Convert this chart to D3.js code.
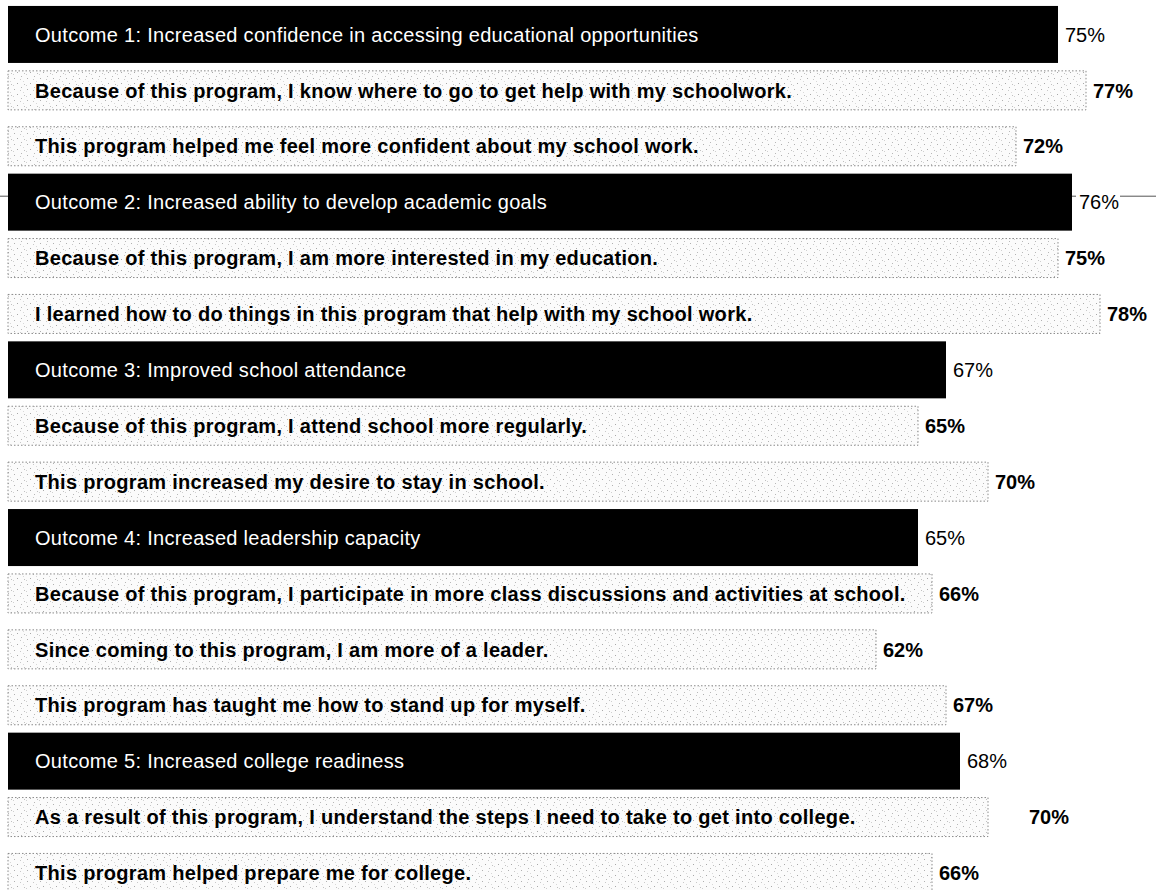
<!DOCTYPE html>
<html>
<head>
<meta charset="utf-8">
<script src="https://cdn.jsdelivr.net/npm/d3@7/dist/d3.min.js"></script>
<style>
  html, body { margin: 0; padding: 0; background: #fff; }
  svg { display: block; font-family: "Liberation Sans", Arial, Helvetica, sans-serif; }
</style>
</head>
<body>
<svg id="chart" width="1156" height="890"></svg>
<script>
// Survey results: outcome headings and the statements under each one
const labels = [
  "Outcome 1: Increased confidence in accessing educational opportunities",
  "Because of this program, I know where to go to get help with my schoolwork.",
  "This program helped me feel more confident about my school work.",
  "Outcome 2: Increased ability to develop academic goals",
  "Because of this program, I am more interested in my education.",
  "I learned how to do things in this program that help with my school work.",
  "Outcome 3: Improved school attendance",
  "Because of this program, I attend school more regularly.",
  "This program increased my desire to stay in school.",
  "Outcome 4: Increased leadership capacity",
  "Because of this program, I participate in more class discussions and activities at school.",
  "Since coming to this program, I am more of a leader.",
  "This program has taught me how to stand up for myself.",
  "Outcome 5: Increased college readiness",
  "As a result of this program, I understand the steps I need to take to get into college.",
  "This program helped prepare me for college."
];
const values = [75, 77, 72, 76, 75, 78, 67, 65, 70, 65, 66, 62, 67, 68, 70, 66];
const isOutcome = [true, false, false, true, false, false, true, false, false, true, false, false, false, true, false, false];

const W = 1156, H = 890;
const svg = d3.select("#chart");

const x = d3.scaleLinear().domain([0, 78]).range([8, 1100]);
const y = d3.scaleBand().domain(d3.range(labels.length)).range([6.5, 6.5 + 55.9 * labels.length]).padding(0);

const rows = labels.map((label, i) => ({ label, value: values[i], outcome: isOutcome[i], i }));

// stippled near-white fill for statement bars
const defs = svg.append("defs");
const pat = defs.append("pattern")
  .attr("id", "stipple").attr("patternUnits", "userSpaceOnUse")
  .attr("width", 13).attr("height", 11);
pat.append("rect").attr("width", 13).attr("height", 11).attr("fill", "#fbfbfb");
[[1, 1, "#b0b0b0"], [7, 2, "#c8c8c8"], [4, 6, "#a8a8a8"], [11, 7, "#c0c0c0"], [8, 10, "#b8b8b8"], [0, 8, "#d0d0d0"], [10, 4, "#d8d8d8"]]
  .forEach(([px, py, c]) => pat.append("rect").attr("x", px).attr("y", py).attr("width", 1).attr("height", 1).attr("fill", c));

// faint rule running through the second outcome row
const ruleY = y(3) + 22;
svg.append("line").attr("x1", 0).attr("x2", W).attr("y1", ruleY).attr("y2", ruleY)
  .attr("stroke", "#555").attr("stroke-width", 1);

const g = svg.selectAll("g.row").data(rows).join("g").attr("class", "row");

const outH = 57, itemH = 39;
const barTop = d => y(d.i) + (y.bandwidth() - (d.outcome ? outH : itemH)) / 2;

g.append("rect")
  .attr("x", x(0))
  .attr("y", barTop)
  .attr("width", d => x(d.value) - x(0))
  .attr("height", d => d.outcome ? outH : itemH)
  .attr("fill", d => d.outcome ? "#000" : "url(#stipple)")
  .attr("stroke", d => d.outcome ? "none" : "#8a8a8a")
  .attr("stroke-width", 1)
  .attr("stroke-dasharray", d => d.outcome ? null : "1.5,2");

g.append("text")
  .attr("x", 35)
  .attr("y", d => y(d.i) + y.bandwidth() / 2)
  .attr("dy", "0.36em")
  .attr("fill", d => d.outcome ? "#fff" : "#000")
  .attr("font-size", 20)
  .attr("font-weight", d => d.outcome ? 400 : 700)
  .attr("letter-spacing", "0.3px")
  .text(d => d.label);

// value labels; the college-steps figure sits a little further out
const labelShift = { 14: 34 };
svg.insert("rect", "g.row").attr("x", x(values[3]) + 4).attr("y", ruleY - 8)
  .attr("width", 44).attr("height", 16).attr("fill", "#fff");
g.append("text")
  .attr("x", d => x(d.value) + 7 + (labelShift[d.i] || 0))
  .attr("y", d => y(d.i) + y.bandwidth() / 2)
  .attr("dy", "0.36em")
  .attr("fill", "#000")
  .attr("font-size", 20)
  .attr("font-weight", d => d.outcome ? 400 : 700)
  .text(d => d.value + "%");
</script>
</body>
</html>
